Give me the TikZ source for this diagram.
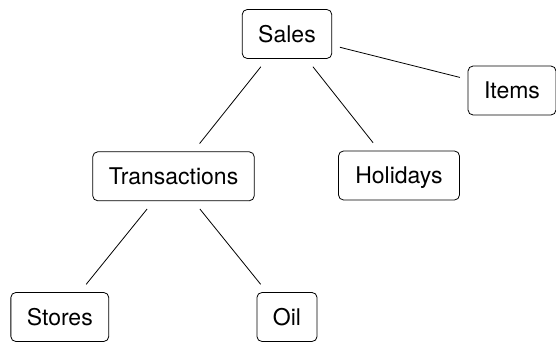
\documentclass[tikz,border=0pt]{standalone}
\usepackage{fontspec}
\setmainfont{TeX Gyre Heros}
\begin{document}
\begin{tikzpicture}[x=1pt,y=1pt,
  box/.style={draw, line width=0.8pt, rounded corners=5pt, inner xsep=16pt, inner ysep=0pt,
    minimum height=49pt, font=\fontsize{23}{27}\selectfont, text height=16.5pt, text depth=0pt},
  link/.style={line width=0.8pt, shorten >=10pt, shorten <=10pt}]
\useasboundingbox (0,0) rectangle (556,342);
\node[box] (sales) at (287,308) {Sales};
\node[box] (items) at (512,251.5) {Items};
\node[box] (trans) at (173.5,165.7) {Transactions};
\node[box, minimum width=121pt] (hol) at (399,166.5) {Holidays};
\node[box] (stores) at (59.8,25) {Stores};
\node[box] (oil) at (287,25) {Oil};
\draw[link] (sales) -- (trans);
\draw[link] (sales) -- (hol);
\draw[link, shorten >=8pt, shorten <=8pt] (sales) -- (items);
\draw[link] (trans) -- (stores);
\draw[link] (trans) -- (oil);
\end{tikzpicture}
\end{document}
